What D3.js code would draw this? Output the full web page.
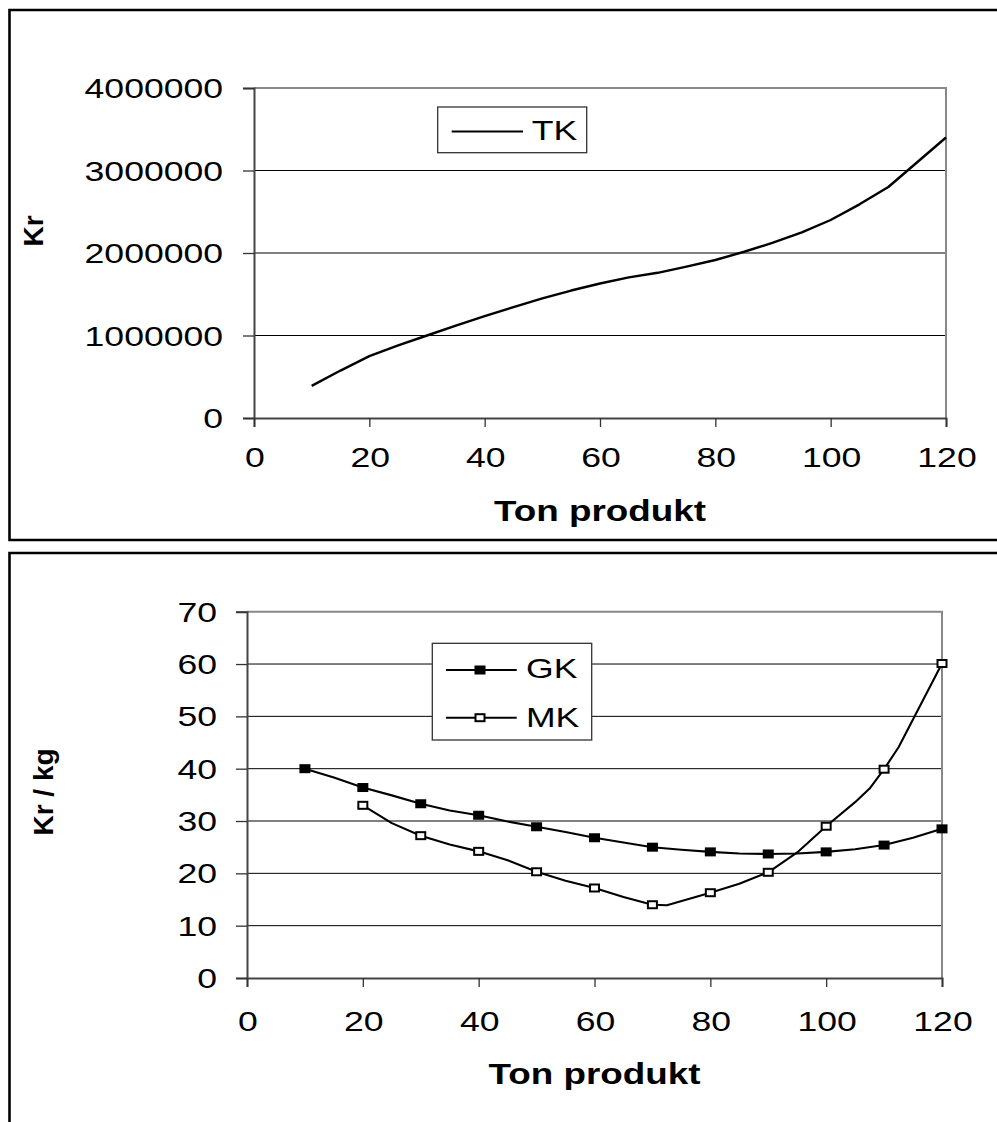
<!DOCTYPE html>
<html>
<head>
<meta charset="utf-8">
<script src="https://cdn.jsdelivr.net/npm/d3@7"></script>
<style>
  html, body { margin: 0; padding: 0; background: #fff; }
  svg { display: block; }
  text { font-family: "Liberation Sans", Arial, sans-serif; fill: #000; }
</style>
</head>
<body>
<svg id="chart" width="997" height="1122"></svg>
<script>
// ---- Total cost (TK), kr by tonnes of product ----
const tkTons = [10, 15, 20, 25, 30, 35, 40, 45, 50, 55, 60, 65, 70, 75, 80, 85, 90, 95, 100, 105, 110, 115, 120];
const tkKr   = [390000, 575000, 750000, 880000, 1000000, 1120000, 1235000, 1345000, 1450000, 1545000, 1630000, 1705000,
                1760000, 1835000, 1915000, 2015000, 2125000, 2250000, 2400000, 2590000, 2800000, 3100000, 3400000];
const tkYTicks = [0, 1000000, 2000000, 3000000, 4000000];

// ---- Average cost (GK) and marginal cost (MK), kr per kg ----
const gkTons = [10, 15, 20, 25, 30, 35, 40, 45, 50, 55, 60, 65, 70, 75, 80, 85, 90, 95, 100, 105, 110, 115, 120];
const gkKrKg = [40.0, 38.3, 36.4, 34.9, 33.3, 32.0, 31.1, 29.9, 28.9, 27.9, 26.8, 25.9, 25.0, 24.5, 24.1, 23.8, 23.7, 23.8,
                24.1, 24.6, 25.4, 26.8, 28.5];
const mkTons = [20, 25, 30, 35, 40, 45, 50, 55, 60, 65, 70, 72.5, 80, 85, 90, 95, 100, 105, 107.5, 110, 112.5, 120];
const mkKrKg = [33.0, 29.6, 27.2, 25.5, 24.2, 22.5, 20.3, 18.6, 17.2, 15.5, 14.0, 13.9, 16.3, 18.0, 20.2, 24.0, 29.0,
                33.6, 36.2, 39.9, 44.1, 60.1];
const perKgYTicks = [0, 10, 20, 30, 40, 50, 60, 70];

const xTicks = [0, 20, 40, 60, 80, 100, 120];
const xTitle = "Ton produkt";

const svg = d3.select("#chart");
const SX = 1.27;          // horizontal widening of the upright labels
const FONT = 28;

function label(g, x, y, str, anchor, size, weight) {
  return g.append("text")
    .attr("transform", `translate(${x},${y}) scale(${SX},1)`)
    .attr("text-anchor", anchor)
    .style("font-size", size + "px")
    .style("font-weight", weight || "normal")
    .text(str);
}

// Outer frames around each chart
svg.append("path")
  .attr("d", "M1000,10 H9.5 V540 H1000")
  .attr("fill", "none").attr("stroke", "#000").attr("stroke-width", 2.6);
svg.append("path")
  .attr("d", "M1000,553 H9.5 V1125")
  .attr("fill", "none").attr("stroke", "#000").attr("stroke-width", 2.6);

function drawFrame(g, x, y, yTicks, fmt, labelRight, xLabelY, titleY) {
  const [x0, x1] = x.range();
  const [y0, y1] = y.range();   // y0 bottom, y1 top
  // horizontal gridlines
  g.append("g").selectAll("line")
    .data(yTicks.filter(v => v !== y.domain()[0] && v !== y.domain()[1]))
    .join("line")
    .attr("x1", x0).attr("x2", x1)
    .attr("y1", d => y(d)).attr("y2", d => y(d))
    .attr("stroke", "#000").attr("stroke-width", 1);
  // top and right border of the plot area
  g.append("path")
    .attr("d", `M${x0},${y1} H${x1} V${y0}`)
    .attr("fill", "none").attr("stroke", "#888").attr("stroke-width", 2);
  // axes (ticks only, labels drawn separately)
  const ya = g.append("g").attr("transform", `translate(${x0},0)`)
    .call(d3.axisLeft(y).tickValues(yTicks).tickSize(11).tickFormat(""));
  const xa = g.append("g").attr("transform", `translate(0,${y0})`)
    .call(d3.axisBottom(x).tickValues(xTicks).tickSize(9).tickFormat(""));
  [ya, xa].forEach(a => {
    a.select(".domain").attr("stroke", "#444").attr("stroke-width", 2);
    a.selectAll(".tick line").attr("stroke", "#333").attr("stroke-width", 1.3);
  });
  // tick labels
  yTicks.forEach(v => label(g, labelRight, y(v) + 10, fmt(v), "end", FONT));
  xTicks.forEach(v => label(g, x(v) + 1, xLabelY, String(v), "middle", FONT));
  // x title
  label(g, (x0 + x1) / 2, titleY, xTitle, "middle", 29, "bold");
}

// ================= Top chart: TK =================
{
  const g = svg.append("g");
  const x = d3.scaleLinear().domain([0, 120]).range([254, 946]);
  const y = d3.scaleLinear().domain([0, 4000000]).range([418, 88]);
  drawFrame(g, x, y, tkYTicks, d => String(d), 223, 467, 521);

  g.append("text")
    .attr("transform", "translate(43,231) rotate(-90)")
    .attr("text-anchor", "middle")
    .style("font-size", "28px").style("font-weight", "bold")
    .text("Kr");

  const line = d3.line().x((d, i) => x(tkTons[i])).y(d => y(d));
  g.append("path").datum(tkKr)
    .attr("d", line)
    .attr("fill", "none").attr("stroke", "#000").attr("stroke-width", 2.4)
    .attr("stroke-linejoin", "round");

  // legend
  const lg = g.append("g");
  lg.append("rect").attr("x", 437.7).attr("y", 107).attr("width", 149).attr("height", 45.7)
    .attr("fill", "#fff").attr("stroke", "#333").attr("stroke-width", 1.3);
  lg.append("line").attr("x1", 451.7).attr("x2", 523).attr("y1", 131.5).attr("y2", 131.5)
    .attr("stroke", "#000").attr("stroke-width", 2.2);
  label(lg, 531.7, 139.5, "TK", "start", 28);
}

// ================= Bottom chart: GK & MK =================
{
  const g = svg.append("g");
  const x = d3.scaleLinear().domain([0, 120]).range([247, 942]);
  const y = d3.scaleLinear().domain([0, 70]).range([978, 611.7]);
  drawFrame(g, x, y, perKgYTicks, d => String(d), 217, 1031, 1084);

  g.append("text")
    .attr("transform", "translate(53,792) rotate(-90)")
    .attr("text-anchor", "middle")
    .style("font-size", "28px").style("font-weight", "bold")
    .text("Kr / kg");

  const gkPts = gkTons.map((t, i) => [t, gkKrKg[i]]);
  const mkPts = mkTons.map((t, i) => [t, mkKrKg[i]]);
  const line = d3.line().x(d => x(d[0])).y(d => y(d[1]));

  g.append("path").datum(gkPts).attr("d", line)
    .attr("fill", "none").attr("stroke", "#000").attr("stroke-width", 2.1).attr("stroke-linejoin", "round");
  g.append("path").datum(mkPts).attr("d", line)
    .attr("fill", "none").attr("stroke", "#000").attr("stroke-width", 2.1).attr("stroke-linejoin", "round");

  const MW = 11, MH = 9;
  g.append("g").selectAll("rect")
    .data(gkPts.filter(d => d[0] % 10 === 0))
    .join("rect")
    .attr("x", d => x(d[0]) - MW / 2).attr("y", d => y(d[1]) - MH / 2)
    .attr("width", MW).attr("height", MH).attr("fill", "#000");
  g.append("g").selectAll("rect")
    .data(mkPts.filter(d => d[0] % 10 === 0))
    .join("rect")
    .attr("x", d => x(d[0]) - (MW - 2) / 2).attr("y", d => y(d[1]) - (MH - 2) / 2)
    .attr("width", MW - 2).attr("height", MH - 2)
    .attr("fill", "#fff").attr("stroke", "#000").attr("stroke-width", 2);

  // legend
  const lg = g.append("g");
  lg.append("rect").attr("x", 432.3).attr("y", 643.3).attr("width", 159.4).attr("height", 96.7)
    .attr("fill", "#fff").attr("stroke", "#333").attr("stroke-width", 1.3);
  [["GK", 670, true, 678], ["MK", 717.7, false, 726.7]].forEach(([name, ly, filled, by]) => {
    lg.append("line").attr("x1", 446).attr("x2", 516.7).attr("y1", ly).attr("y2", ly)
      .attr("stroke", "#000").attr("stroke-width", 2);
    if (filled) {
      lg.append("rect").attr("x", 480 - MW / 2).attr("y", ly - MH / 2).attr("width", MW).attr("height", MH).attr("fill", "#000");
    } else {
      lg.append("rect").attr("x", 480 - (MW - 2) / 2).attr("y", ly - (MH - 2) / 2).attr("width", MW - 2).attr("height", MH - 2)
        .attr("fill", "#fff").attr("stroke", "#000").attr("stroke-width", 2);
    }
    label(lg, 526, by, name, "start", 28);
  });
}
</script>
</body>
</html>
